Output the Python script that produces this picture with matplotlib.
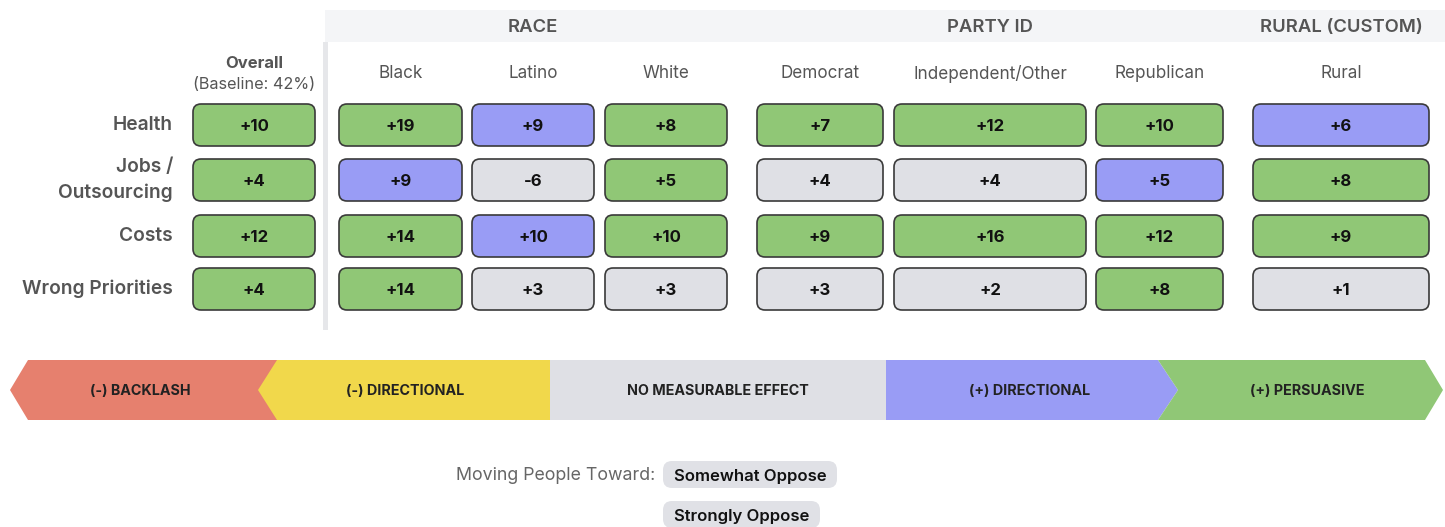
import matplotlib
matplotlib.use("Agg")

import matplotlib.pyplot as plt
from matplotlib.patches import FancyBboxPatch, Polygon, Rectangle

plt.rcParams["font.family"] = ["Inter", "DejaVu Sans"]

# data
row_labels = ["Health", "Jobs /\nOutsourcing", "Costs", "Wrong Priorities"]
col_labels = ["Black", "Latino", "White", "Democrat", "Independent/Other",
              "Republican", "Rural"]
groups = ["RACE", "PARTY ID", "RURAL (CUSTOM)"]
group_cols = [[0, 1, 2], [3, 4, 5], [6]]
overall_label = "Overall"
baseline_label = "(Baseline: 42%)"

overall_values = [10, 4, 12, 4]
values = [
    [19, 9, 8, 7, 12, 10, 6],
    [9, -6, 5, 4, 4, 5, 8],
    [14, 10, 10, 9, 16, 12, 9],
    [14, 3, 3, 3, 2, 8, 1],
]
# P = persuasive, D = directional, N = no measurable effect
overall_effects = ["P", "P", "P", "P"]
effects = [
    ["P", "D", "P", "P", "P", "P", "D"],
    ["D", "N", "P", "N", "N", "D", "P"],
    ["P", "D", "P", "P", "P", "P", "P"],
    ["P", "N", "N", "N", "N", "P", "N"],
]

scale_labels = ["(-) BACKLASH", "(-) DIRECTIONAL", "NO MEASURABLE EFFECT",
                "(+) DIRECTIONAL", "(+) PERSUASIVE"]
moving_label = "Moving People Toward:"
moving_targets = ["Somewhat Oppose", "Strongly Oppose"]

# styling / layout
GREEN = "#90c776"
BLUE = "#999cf5"
GRAY = "#dfe0e5"
RED = "#e6806e"
YELLOW = "#f1d84b"
TEXT = "#555555"
effect_color = {"P": GREEN, "D": BLUE, "N": GRAY}

col_left = [339, 472, 605, 757, 894, 1096, 1253]
col_right = [462, 594, 727, 883, 1086, 1223, 1429]
overall_x = (193, 315)
row_top = [104, 159, 215, 268]
row_h = 42


def add_cell(ax, x0, x1, y0, value, effect):
    box = FancyBboxPatch(
        (x0, y0), x1 - x0, row_h,
        boxstyle="round,pad=0,rounding_size=8",
        facecolor=effect_color[effect],
        edgecolor="#3a3a3a",
        linewidth=1.2,
    )
    ax.add_patch(box)
    ax.text((x0 + x1) / 2, y0 + row_h / 2 + 1.5, f"{value:+d}",
            ha="center", va="center", fontsize=12, fontweight="bold",
            color="#111111")


def main():
    fig = plt.figure(figsize=(14.45, 5.27), dpi=100)
    ax = fig.add_axes([0, 0, 1, 1])
    ax.set_xlim(0, 1445)
    ax.set_ylim(527, 0)
    ax.axis("off")
    fig.patch.set_facecolor("white")

    # header band and divider
    ax.add_patch(Rectangle((325, 10), 1120, 32, facecolor="#f4f5f7",
                           edgecolor="none"))
    ax.add_patch(Rectangle((323, 42), 5, 288, facecolor="#e6e7ea",
                           edgecolor="none"))

    centers = [(l + r) / 2 for l, r in zip(col_left, col_right)]
    for name, idx in zip(groups, group_cols):
        gx = centers[idx[len(idx) // 2]]
        ax.text(gx, 26, name, ha="center", va="center_baseline",
                fontsize=13.3, fontweight="semibold", color=TEXT)

    for cx, name in zip(centers, col_labels):
        ax.text(cx, 72, name, ha="center", va="center_baseline",
                fontsize=12.3, color=TEXT)

    ox = sum(overall_x) / 2
    ax.text(ox, 62, overall_label, ha="center", va="center_baseline",
            fontsize=12, fontweight="bold", color=TEXT)
    ax.text(ox, 83, baseline_label, ha="center", va="center_baseline",
            fontsize=11.7, color=TEXT)

    for r, label in enumerate(row_labels):
        ax.text(173, row_top[r] + row_h / 2, label, ha="right", va="center",
                fontsize=13.8, fontweight="semibold", color=TEXT,
                linespacing=1.45)
        add_cell(ax, overall_x[0], overall_x[1], row_top[r],
                 overall_values[r], overall_effects[r])
        for c in range(len(col_labels)):
            add_cell(ax, col_left[c], col_right[c], row_top[r],
                     values[r][c], effects[r][c])

    # scale bar
    top, bot = 360, 420
    mid = (top + bot) / 2
    shapes = [
        (RED, [(10, mid), (28, top), (290, top), (290, bot), (28, bot)]),
        (YELLOW, [(258, mid), (277, top), (550, top), (550, bot), (277, bot)]),
        (GRAY, [(550, top), (886, top), (886, bot), (550, bot)]),
        (BLUE, [(886, top), (1158, top), (1178, mid), (1158, bot), (886, bot)]),
        (GREEN, [(1158, top), (1425, top), (1443, mid), (1425, bot),
                 (1158, bot), (1178, mid)]),
    ]
    for color, pts in shapes:
        ax.add_patch(Polygon(pts, closed=True, facecolor=color,
                             edgecolor="none"))
    label_x = [140, 405, 718, 1030, 1307]
    for x, label in zip(label_x, scale_labels):
        ax.text(x, mid + 1, label, ha="center", va="center", fontsize=10.3,
                fontweight="bold", color="#222222")

    # moving people toward
    ax.text(655, 474, moving_label, ha="right", va="center_baseline",
            fontsize=12.8, color="#666666")
    pill_y = [474, 514]
    pill_w = [174, 157]
    for y, w, label in zip(pill_y, pill_w, moving_targets):
        ax.add_patch(FancyBboxPatch(
            (663, y - 13), w, 27,
            boxstyle="round,pad=0,rounding_size=9",
            facecolor="#e0e1e6", edgecolor="none"))
        ax.text(663 + w / 2, y + 1, label, ha="center", va="center_baseline",
                fontsize=12, fontweight="semibold", color="#111111")

    fig.savefig("out.png", dpi=100)
    plt.close(fig)


if __name__ == "__main__":
    main()
